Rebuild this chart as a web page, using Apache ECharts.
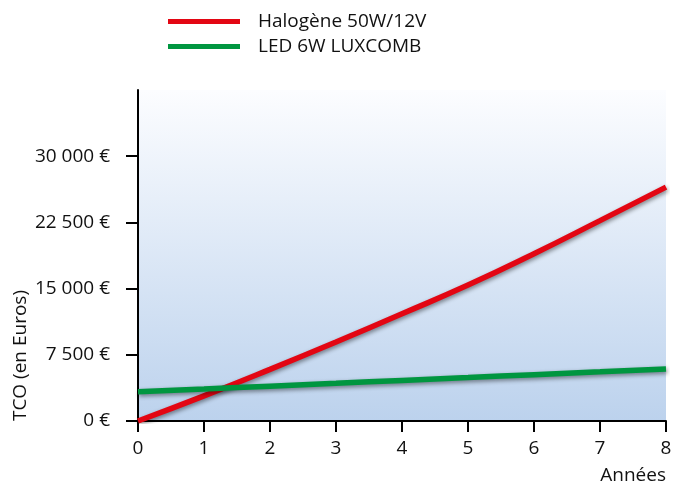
<!DOCTYPE html>
<html><head><meta charset="utf-8">
<script src="https://cdn.jsdelivr.net/npm/echarts@6/dist/echarts.min.js"></script>
<style>html,body{margin:0;padding:0;background:#fff}#c{width:675px;height:484px}</style>
</head><body><div id="c"></div>
<script>
const years = [0, 1, 2, 3, 4, 5, 6, 7, 8];
const halogene = [0, 2850, 5850, 8950, 12150, 15400, 18950, 22700, 26500];
const led = [3300, 3620, 3950, 4270, 4600, 4920, 5250, 5570, 5900];
const seriesNames = ['Halogène 50W/12V', 'LED 6W LUXCOMB'];
const yTicks = [0, 7500, 15000, 22500, 30000];
const FONT = '"Open Sans", sans-serif';
const TXT = '#111';

function fmt(v) { return String(v).replace(/\B(?=(\d{3})+(?!\d))/g, ' ') + ' €'; }

const chart = echarts.init(document.getElementById('c'), null, {renderer: 'canvas'});
const shadow = {shadowColor: 'rgba(0,0,0,0.45)', shadowBlur: 4, shadowOffsetX: 1, shadowOffsetY: 2};
chart.setOption({
  animation: false,
  grid: {left: 138, right: 9, top: 90, bottom: 63, show: true, borderWidth: 0,
    backgroundColor: new echarts.graphic.LinearGradient(0, 0, 0, 1, [
      {offset: 0, color: '#fcfdff'}, {offset: 1, color: '#bcd2ed'}])},
  legend: {
    orient: 'vertical', left: 168, top: 12, padding: 0, itemWidth: 72, itemHeight: 5, itemGap: 6,
    icon: 'rect',
    data: seriesNames,
    textStyle: {fontFamily: FONT, fontSize: 19, color: TXT, padding: [0, 0, 0, 13]}
  },
  xAxis: {
    type: 'value', min: 0, max: 8, interval: 1,
    axisLine: {show: true, lineStyle: {color: '#000', width: 2}},
    axisTick: {show: true, length: 11, lineStyle: {color: '#000', width: 2}},
    axisLabel: {fontFamily: FONT, fontSize: 19, color: TXT, margin: 18},
    splitLine: {show: false}
  },
  yAxis: {
    type: 'value', min: 0, max: 37500, interval: 7500,
    axisLine: {show: true, lineStyle: {color: '#000', width: 2}},
    axisTick: {show: true, length: 12, lineStyle: {color: '#000', width: 2}, customValues: yTicks},
    axisLabel: {fontFamily: FONT, fontSize: 19, color: TXT, margin: 28,
      customValues: yTicks, formatter: fmt},
    splitLine: {show: false}
  },
  graphic: [
    {type: 'text', left: 11, top: 290, rotation: Math.PI / 2, style: {text: 'TCO (en Euros)', font: '19px ' + FONT, fill: TXT}},
    {type: 'text', right: 9, top: 466, style: {text: 'Années', font: '19px ' + FONT, fill: TXT}}
  ],
  series: [
    {name: seriesNames[0], type: 'line', smooth: true, showSymbol: false, color: '#e30613',
      data: years.map((x, i) => [x, halogene[i]]),
      lineStyle: Object.assign({width: 5.5, color: '#e30613'}, shadow)},
    {name: seriesNames[1], type: 'line', smooth: true, showSymbol: false, color: '#009640',
      data: years.map((x, i) => [x, led[i]]),
      lineStyle: Object.assign({width: 5.5, color: '#009640'}, shadow)}
  ]
});
</script></body></html>
